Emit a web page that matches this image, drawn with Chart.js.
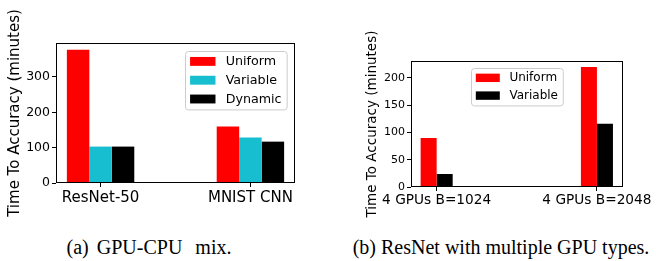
<!DOCTYPE html>
<html>
<head>
<meta charset="utf-8">
<script src="https://cdn.jsdelivr.net/npm/chart.js@4/dist/chart.umd.min.js"></script>
<style>
  body { margin: 0; background: #fff; width: 656px; height: 261px; position: relative; overflow: hidden; }
  canvas { position: absolute; top: 0; }
  .cap { position: absolute; top: 237px; font: 20px "Liberation Serif", serif; line-height: 20px; color: #000; white-space: nowrap; transform: translateX(-50%); }
</style>
</head>
<body>
<canvas id="chartA" width="330" height="225" style="left:0"></canvas>
<canvas id="chartB" width="326" height="225" style="left:330px"></canvas>
<div class="cap" style="left:149px; word-spacing:3px">(a) GPU-CPU <span style="margin-left:5px">mix.</span></div>
<div class="cap" style="left:501px">(b) ResNet with multiple GPU types.</div>
<script>
// (a) GPU-CPU mix
const categoriesA = ['ResNet-50', 'MNIST CNN'];
const uniformA = [377, 160];
const variableA = [103, 129];
const dynamicA = [103, 117];
const yTicksA = [0, 100, 200, 300];

// (b) ResNet with multiple GPU types
const categoriesB = ['4 GPUs B=1024', '4 GPUs B=2048'];
const uniformB = [90, 220];
const variableB = [24, 116];
const yTicksB = [0, 50, 100, 150, 200];

const RED = '#ff0000', CYAN = '#17becf', BLACK = '#000000';
const FONT = '"DejaVu Sans", sans-serif';

function points(values) {
    return values.map((v, i) => ({ x: i, y: v }));
}

// frame around the plot and matplotlib-like legend inside it
const frameLegend = {
    id: 'frameLegend',
    afterDraw(chart, args, opts) {
        const ctx = chart.ctx;
        const a = chart.chartArea;
        const sets = chart.data.datasets;
        const fs = opts.fontSize;
        ctx.save();
        ctx.font = fs + 'px ' + FONT;
        let textW = 0;
        sets.forEach(d => { textW = Math.max(textW, ctx.measureText(d.label).width); });
        const pad = 0.4 * fs, hl = 2 * fs, gap = 0.8 * fs;
        const w = 2 * pad + hl + gap + textW;
        const h = 2 * 0.82 * fs + (sets.length - 1) * 1.48 * fs;
        let x = opts.align === 'center' ? (a.left + a.right) / 2 - w / 2 : a.right - opts.offsetX - w;
        x = Math.round(x);
        const y = Math.round(a.top + opts.offsetY);
        ctx.beginPath();
        ctx.roundRect(x + 0.5, y + 0.5, w, h, 3);
        ctx.fillStyle = 'rgba(255,255,255,0.8)';
        ctx.fill();
        ctx.strokeStyle = '#cccccc';
        ctx.lineWidth = 1;
        ctx.stroke();
        sets.forEach((d, i) => {
            const cy = y + 0.82 * fs + i * 1.48 * fs;
            ctx.fillStyle = d.backgroundColor;
            ctx.fillRect(x + pad, cy - 0.35 * fs, hl, 0.7 * fs);
            ctx.fillStyle = '#000';
            ctx.textBaseline = 'middle';
            ctx.textAlign = 'left';
            ctx.fillText(d.label, x + pad + hl + gap, cy + 0.5);
        });
        ctx.strokeStyle = '#000';
        ctx.lineWidth = 1;
        ctx.strokeRect(Math.round(a.left) + 0.5, Math.round(a.top) + 0.5,
            Math.round(a.right - a.left) - 1, Math.round(a.bottom - a.top) - 1);
        ctx.restore();
    }
};

function makeChart(id, o) {
    const tickGrid = { drawOnChartArea: false, drawTicks: true, tickLength: 4, color: '#000', lineWidth: 1, offset: false };
    return new Chart(document.getElementById(id), {
        type: 'bar',
        data: { datasets: o.datasets },
        options: {
            responsive: false,
            animation: false,
            layout: { padding: o.padding },
            datasets: { bar: { categoryPercentage: o.catPct, barPercentage: 1, borderWidth: 0 } },
            plugins: {
                legend: { display: false },
                tooltip: { enabled: false },
                frameLegend: o.legend
            },
            scales: {
                x: {
                    type: 'linear',
                    offset: false,
                    min: o.xMin,
                    max: o.xMax,
                    afterBuildTicks: s => { s.ticks = o.categories.map((c, i) => ({ value: i })); },
                    afterFit: s => { s.height = o.xHeight; },
                    ticks: {
                        callback: (v, i) => o.categories[i],
                        font: { family: FONT, size: o.xFont },
                        color: '#000',
                        padding: o.xPad,
                        maxRotation: 0,
                        autoSkip: false
                    },
                    grid: tickGrid,
                    border: { display: false }
                },
                y: {
                    min: 0,
                    max: o.yMax,
                    afterBuildTicks: s => { s.ticks = o.yTicks.map(v => ({ value: v })); },
                    afterFit: s => { s.width = o.yWidth; },
                    ticks: {
                        font: { family: FONT, size: o.yFont },
                        color: '#000',
                        padding: 2
                    },
                    grid: tickGrid,
                    border: { display: false },
                    title: {
                        display: true,
                        text: 'Time To Accuracy (minutes)',
                        font: { family: FONT, size: o.titleFont },
                        color: '#000',
                        padding: { top: 4, bottom: 0 }
                    }
                }
            }
        },
        plugins: [frameLegend]
    });
}

makeChart('chartA', {
    categories: categoriesA,
    yTicks: yTicksA,
    datasets: [
        { label: 'Uniform', data: points(uniformA), backgroundColor: RED },
        { label: 'Variable', data: points(variableA), backgroundColor: CYAN },
        { label: 'Dynamic', data: points(dynamicA), backgroundColor: BLACK }
    ],
    padding: { left: 2, top: 43, right: 35, bottom: 0 },
    catPct: 0.45,
    xMin: -0.2975, xMax: 1.2975,
    xHeight: 42, xFont: 15, xPad: 2,
    yMax: 396, yWidth: 54, yFont: 12.5, titleFont: 15,
    legend: { fontSize: 12.7, align: 'right', offsetX: 8, offsetY: 7.5 }
});

makeChart('chartB', {
    categories: categoriesB,
    yTicks: yTicksB,
    datasets: [
        { label: 'Uniform', data: points(uniformB), backgroundColor: RED },
        { label: 'Variable', data: points(variableB), backgroundColor: BLACK }
    ],
    padding: { left: 30, top: 61, right: 29, bottom: 0 },
    catPct: 0.2,
    xMin: -0.16, xMax: 1.16,
    xHeight: 38, xFont: 13.7, xPad: 1,
    yMax: 231, yWidth: 51, yFont: 11, titleFont: 13.5,
    legend: { fontSize: 12, align: 'center', offsetX: 0, offsetY: 6.7 }
});
</script>
</body>
</html>
